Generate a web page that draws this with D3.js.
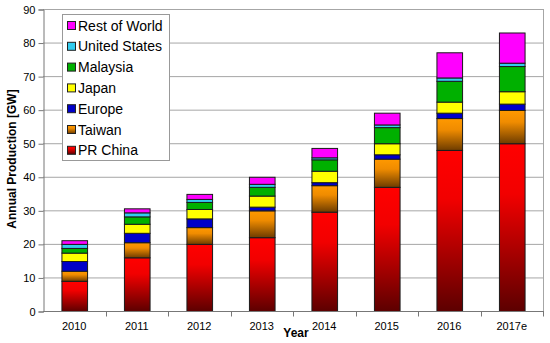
<!DOCTYPE html>
<html>
<head>
<meta charset="UTF-8">
<title>Annual Production</title>
<style>
    body {
        margin: 0;
        background: #fff;
        font-family: "Liberation Sans", Arial, helvetica, sans-serif;
    }
    .tick text {
        font-size: 11px;
        fill: #000;
    }
    .grid line {
        stroke: #a6a6a6;
        stroke-width: 1px;
    }
    .axis-title {
        font-size: 12px;
        font-weight: bold;
    }
    .legend text {
        font-size: 14px;
    }
</style>
</head>
<body>
<div id="chart"></div>
<script src="https://d3js.org/d3.v7.min.js"></script>
<script>

    // data, GW per year
    let years = ["2010", "2011", "2012", "2013", "2014", "2015", "2016", "2017e"];
    let regions = ["PR China", "Taiwan", "Europe", "Japan", "Malaysia", "United States", "Rest of World"];

    let prChina      = [9.0, 16.0, 20.0, 22.0, 29.6, 37.0, 48.0, 50.0];
    let taiwan       = [3.0, 4.5, 5.0, 8.0, 7.9, 8.4, 9.5, 9.9];
    let europe       = [2.9, 2.8, 2.6, 1.1, 0.9, 1.3, 1.6, 1.9];
    let japan        = [2.5, 2.7, 2.8, 3.3, 3.4, 3.3, 3.3, 3.7];
    let malaysia     = [1.4, 2.2, 2.1, 2.6, 3.4, 4.8, 6.2, 7.5];
    let unitedStates = [1.2, 1.2, 0.9, 0.9, 0.6, 0.8, 1.0, 1.0];
    let restOfWorld  = [1.1, 1.2, 1.5, 2.1, 2.8, 3.5, 7.5, 9.0];

    let yTicks = [0, 10, 20, 30, 40, 50, 60, 70, 80, 90];

    let series = [prChina, taiwan, europe, japan, malaysia, unitedStates, restOfWorld];

    // table for d3.stack
    let table = years.map((y, i) => {
        let row = {year: y};
        regions.forEach((r, j) => row[r] = series[j][i]);
        return row;
    });

    let width = 550, height = 343;
    let margin = {top: 9, right: 7, bottom: 32, left: 43};

    let svg = d3.select("#chart").append("svg")
        .attr("width", width)
        .attr("height", height);

    // gradients (red and orange fade to dark at the bottom)
    let defs = svg.append("defs");
    let grads = [
        {id: "g0", stops: [["0%", "#ff0000"], ["30%", "#f20000"], ["100%", "#5c0000"]]},
        {id: "g1", stops: [["0%", "#ff9900"], ["35%", "#f08c00"], ["100%", "#6e3c00"]]}
    ];
    grads.forEach(g => {
        let lg = defs.append("linearGradient")
            .attr("id", g.id)
            .attr("x1", 0).attr("y1", 0).attr("x2", 0).attr("y2", 1);
        g.stops.forEach(s => lg.append("stop").attr("offset", s[0]).attr("stop-color", s[1]));
    });

    let colors = ["url(#g0)", "url(#g1)", "#0000c8", "#ffff00", "#00b000", "#33ccee", "#ff00ff"];
    let color = d3.scaleOrdinal().domain(regions).range(colors);

    let x = d3.scaleBand()
        .domain(years)
        .range([margin.left, width - margin.right])
        .paddingInner(0.59)
        .paddingOuter(0.295);

    let xOuter = d3.scaleBand()
        .domain(years)
        .range([margin.left, width - margin.right]);

    let y = d3.scaleLinear()
        .domain([0, 90])
        .range([height - margin.bottom, margin.top]);

    // grid lines
    svg.append("g")
        .attr("class", "grid")
        .selectAll("line")
        .data(yTicks.slice(1))
        .enter().append("line")
        .attr("x1", margin.left)
        .attr("x2", width - margin.right)
        .attr("y1", d => y(d) + 0.5)
        .attr("y2", d => y(d) + 0.5);

    // right border of the plot area
    svg.append("line")
        .attr("x1", width - margin.right + 0.5)
        .attr("x2", width - margin.right + 0.5)
        .attr("y1", y(90))
        .attr("y2", y(0))
        .attr("stroke", "#a6a6a6");

    // bars
    let stack = d3.stack().keys(regions);
    let layers = stack(table);

    svg.append("g")
        .selectAll("g")
        .data(layers)
        .enter().append("g")
        .attr("fill", d => color(d.key))
        .selectAll("rect")
        .data(d => d)
        .enter().append("rect")
        .attr("x", d => x(d.data.year) + 0.5)
        .attr("width", x.bandwidth())
        .attr("y", d => y(d[1]) + 0.5)
        .attr("height", d => y(d[0]) - y(d[1]))
        .attr("stroke", "#1a1a1a")
        .attr("stroke-width", 1);

    // y axis
    svg.append("g")
        .attr("transform", "translate(" + (margin.left + 0.5) + ",0.5)")
        .call(d3.axisLeft(y).tickValues(yTicks).tickSize(5).tickPadding(3))
        .call(g => g.selectAll("line, path").attr("stroke", "#777"));

    // x axis, ticks between categories
    let xAxis = svg.append("g")
        .attr("transform", "translate(0," + (y(0) + 0.5) + ")");
    xAxis.append("line")
        .attr("x1", margin.left)
        .attr("x2", width - margin.right + 1)
        .attr("stroke", "#777");
    xAxis.selectAll(".sep")
        .data(years.slice(1).concat(["end"]))
        .enter().append("line")
        .attr("x1", (d, i) => Math.round(xOuter(years[i]) + xOuter.bandwidth()) + 0.5)
        .attr("x2", (d, i) => Math.round(xOuter(years[i]) + xOuter.bandwidth()) + 0.5)
        .attr("y2", 5)
        .attr("stroke", "#777");
    xAxis.selectAll("text")
        .data(years)
        .enter().append("text")
        .attr("x", d => xOuter(d) + xOuter.bandwidth() / 2)
        .attr("y", 18)
        .attr("text-anchor", "middle")
        .style("font-size", "11px")
        .text(d => d);

    // axis titles
    svg.append("text")
        .attr("class", "axis-title")
        .attr("x", 296)
        .attr("y", 337)
        .attr("text-anchor", "middle")
        .text("Year");

    svg.append("text")
        .attr("class", "axis-title")
        .attr("transform", "translate(16,159) rotate(-90)")
        .attr("text-anchor", "middle")
        .text("Annual Production [GW]");

    // legend, top entry is Rest of World
    let legend = svg.append("g")
        .attr("class", "legend");
    legend.append("rect")
        .attr("x", 62.5)
        .attr("y", 14.5)
        .attr("width", 107)
        .attr("height", 146)
        .attr("fill", "#fff")
        .attr("stroke", "#999");

    let items = legend.selectAll(".item")
        .data(regions.slice().reverse())
        .enter().append("g")
        .attr("transform", (d, i) => "translate(67," + (25 + i * 20.8) + ")");
    items.append("rect")
        .attr("x", 0.5)
        .attr("y", -3.5)
        .attr("width", 8)
        .attr("height", 8)
        .attr("fill", d => color(d))
        .attr("stroke", "#222");
    items.append("text")
        .attr("x", 11)
        .attr("y", 5.5)
        .text(d => d);

</script>
</body>
</html>
